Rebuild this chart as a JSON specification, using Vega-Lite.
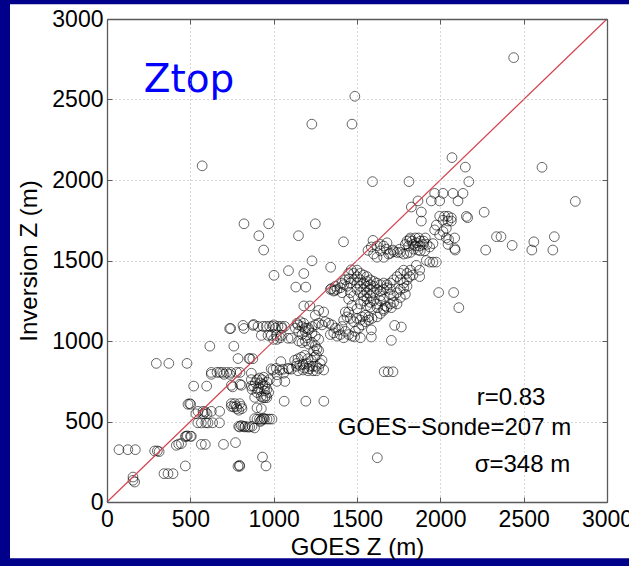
{
  "$schema": "https://vega.github.io/schema/vega-lite/v6.json",
  "width": 500,
  "height": 483,
  "autosize": {"type": "none"},
  "padding": {"left": 107, "top": 19, "right": 22, "bottom": 64},
  "background": "#00008B",
  "config": {
    "font": "Liberation Sans",
    "view": {"stroke": null},
    "axis": {
      "labelFont": "Liberation Sans",
      "labelFontSize": 23,
      "labelColor": "#000000",
      "titleFont": "Liberation Sans",
      "titleFontSize": 24,
      "titleFontWeight": "normal",
      "titleColor": "#000000",
      "domainColor": "#5a5a5a",
      "domainWidth": 1.3,
      "tickColor": "#5a5a5a",
      "tickSize": -5,
      "labelPadding": 8,
      "gridColor": "#b0b0b0",
      "gridDash": [1, 3],
      "labelFlush": false,
      "labelOverlap": false,
      "labelBound": false,
      "format": "d"
    }
  },
  "datasets": {
    "pts": [
      {"g":2440,"s":2760},{"g":1487,"s":2520},{"g":1229,"s":2347},{"g":1470,"s":2347},{"g":571,"s":2088},{"g":2070,"s":2139},{"g":2150,"s":2080},{"g":2610,"s":2079},{"g":1593,"s":1990},{"g":1812,"s":1990},{"g":2171,"s":1990},{"g":2810,"s":1867},{"g":822,"s":1728},{"g":970,"s":1728},{"g":1250,"s":1728},{"g":911,"s":1654},{"g":1149,"s":1654},{"g":940,"s":1565},{"g":1419,"s":1616},{"g":1230,"s":1498},{"g":1089,"s":1437},{"g":1181,"s":1419},{"g":1002,"s":1408},{"g":1342,"s":1458},{"g":1133,"s":1335},{"g":1193,"s":1335},{"g":1181,"s":1218},{"g":1217,"s":1218},{"g":2263,"s":1800},{"g":2164,"s":1766},{"g":2337,"s":1648},{"g":2364,"s":1648},{"g":2272,"s":1565},{"g":2431,"s":1594},{"g":2561,"s":1616},{"g":2549,"s":1565},{"g":2684,"s":1648},{"g":2675,"s":1565},{"g":1990,"s":1301},{"g":2080,"s":1301},{"g":2111,"s":1207},{"g":2089,"s":1565},{"g":1622,"s":275},{"g":1663,"s":809},{"g":1687,"s":809},{"g":1716,"s":809},{"g":1063,"s":626},{"g":1193,"s":626},{"g":1301,"s":626},
      {"g":1966,"s":1917},{"g":2016,"s":1917},{"g":2076,"s":1917},{"g":2136,"s":1917},{"g":1946,"s":1870},{"g":1996,"s":1870},{"g":2106,"s":1870},{"g":1866,"s":1870},{"g":1826,"s":1832},{"g":1886,"s":1801},{"g":1886,"s":1745},{"g":1996,"s":1775},{"g":2026,"s":1775},{"g":2046,"s":1775},{"g":2066,"s":1765},{"g":2016,"s":1750},{"g":2046,"s":1745},{"g":2066,"s":1745},{"g":2156,"s":1774},{"g":1976,"s":1720},{"g":1966,"s":1690},{"g":1996,"s":1660},{"g":2016,"s":1680},{"g":2036,"s":1700},{"g":2036,"s":1640},{"g":2086,"s":1640},{"g":2050,"s":1630},{"g":2086,"s":1574},{"g":2046,"s":1600},{"g":1596,"s":1625},{"g":1586,"s":1584},{"g":1566,"s":1563},{"g":1676,"s":1570},{"g":1716,"s":1565},{"g":1756,"s":1570},{"g":1816,"s":1630},{"g":1836,"s":1600},{"g":1856,"s":1610},{"g":1876,"s":1590},{"g":1896,"s":1600},{"g":1840,"s":1570},{"g":1866,"s":1565},{"g":1906,"s":1560},{"g":1936,"s":1584},{"g":1956,"s":1605},{"g":1916,"s":1500},{"g":1936,"s":1490},{"g":1956,"s":1490},{"g":1976,"s":1490},{"g":1856,"s":1470},{"g":1876,"s":1440},{"g":1816,"s":1400},{"g":1836,"s":1410},{"g":1876,"s":1400},{"g":1800,"s":1620},{"g":1820,"s":1640},{"g":1830,"s":1620},{"g":1850,"s":1640},{"g":1870,"s":1640},{"g":1880,"s":1620},{"g":1900,"s":1620},{"g":1910,"s":1640},{"g":1920,"s":1600},{"g":1790,"s":1600},{"g":1810,"s":1590},{"g":1850,"s":1590},{"g":1880,"s":1560},{"g":1760,"s":1550},{"g":1780,"s":1540},{"g":1800,"s":1545},{"g":1820,"s":1550},{"g":1700,"s":1545},{"g":1720,"s":1555},{"g":1740,"s":1550},{"g":1660,"s":1590},{"g":1640,"s":1560},{"g":1620,"s":1520},{"g":1660,"s":1520},{"g":1690,"s":1540},{"g":1600,"s":1540},{"g":1620,"s":1590},{"g":1640,"s":1600},{"g":1680,"s":1610},
      {"g":1460,"s":1360},{"g":1480,"s":1380},{"g":1500,"s":1400},{"g":1520,"s":1420},{"g":1540,"s":1410},{"g":1560,"s":1400},{"g":1580,"s":1380},{"g":1600,"s":1370},{"g":1620,"s":1360},{"g":1640,"s":1350},{"g":1660,"s":1360},{"g":1680,"s":1350},{"g":1700,"s":1360},{"g":1720,"s":1380},{"g":1740,"s":1400},{"g":1760,"s":1420},{"g":1780,"s":1440},{"g":1800,"s":1420},{"g":1820,"s":1440},{"g":1760,"s":1380},{"g":1780,"s":1360},{"g":1800,"s":1380},{"g":1500,"s":1360},{"g":1520,"s":1340},{"g":1540,"s":1320},{"g":1560,"s":1340},{"g":1580,"s":1320},{"g":1600,"s":1340},{"g":1620,"s":1320},{"g":1640,"s":1310},{"g":1660,"s":1320},{"g":1680,"s":1330},{"g":1700,"s":1320},{"g":1520,"s":1380},{"g":1540,"s":1360},{"g":1560,"s":1370},{"g":1580,"s":1350},{"g":1600,"s":1300},{"g":1540,"s":1280},{"g":1560,"s":1300},{"g":1580,"s":1280},{"g":1520,"s":1300},{"g":1500,"s":1320},{"g":1540,"s":1250},{"g":1560,"s":1260},{"g":1580,"s":1240},{"g":1600,"s":1250},{"g":1560,"s":1220},{"g":1580,"s":1210},{"g":1620,"s":1230},{"g":1640,"s":1250},{"g":1660,"s":1200},{"g":1680,"s":1210},{"g":1700,"s":1230},{"g":1720,"s":1240},{"g":1740,"s":1230},{"g":1700,"s":1290},{"g":1720,"s":1280},{"g":1740,"s":1300},{"g":1760,"s":1320},{"g":1780,"s":1330},{"g":1800,"s":1340},{"g":1760,"s":1270},{"g":1790,"s":1290},{"g":1640,"s":1280},{"g":1660,"s":1260},{"g":1500,"s":1440},{"g":1480,"s":1420},{"g":1450,"s":1420},{"g":1430,"s":1380},{"g":1420,"s":1350},{"g":1400,"s":1330},{"g":1380,"s":1320},{"g":1410,"s":1300},{"g":1440,"s":1340},{"g":1460,"s":1300},{"g":1480,"s":1280},{"g":1450,"s":1260},{"g":1470,"s":1220},{"g":1500,"s":1200},{"g":1520,"s":1230},{"g":1450,"s":1180},{"g":1430,"s":1180},{"g":1410,"s":1360},{"g":1370,"s":1340},{"g":1340,"s":1320},{"g":1360,"s":1310},{"g":1346,"s":1325},{"g":1366,"s":1315},{"g":1622,"s":1207},{"g":1670,"s":1218},{"g":1706,"s":1207},{"g":1270,"s":1190},{"g":1300,"s":1180},{"g":1250,"s":1160},{"g":1465,"s":1442},{"g":1453,"s":1386},
      {"g":1146,"s":1100},{"g":1170,"s":1090},{"g":1190,"s":1080},{"g":1210,"s":1070},{"g":1230,"s":1090},{"g":1250,"s":1100},{"g":1270,"s":1110},{"g":1290,"s":1100},{"g":1310,"s":1120},{"g":1330,"s":1110},{"g":1350,"s":1100},{"g":1370,"s":1080},{"g":1390,"s":1070},{"g":1410,"s":1090},{"g":1430,"s":1060},{"g":1450,"s":1040},{"g":1470,"s":1030},{"g":1490,"s":1060},{"g":1510,"s":1080},{"g":1530,"s":1100},{"g":1550,"s":1120},{"g":1570,"s":1130},{"g":1590,"s":1140},{"g":1486,"s":1025},{"g":1520,"s":1020},{"g":1586,"s":1025},{"g":1530,"s":1150},{"g":1550,"s":1160},{"g":1570,"s":1150},{"g":1500,"s":1140},{"g":1520,"s":1130},{"g":1480,"s":1120},{"g":1460,"s":1140},{"g":1440,"s":1150},{"g":1420,"s":1130},{"g":1400,"s":1040},{"g":1420,"s":1020},{"g":1380,"s":1030},{"g":1360,"s":1050},{"g":1340,"s":1040},{"g":1726,"s":1097},{"g":1766,"s":1087},{"g":1706,"s":1004},{"g":1620,"s":1150},{"g":1660,"s":1190},{"g":1640,"s":1170},{"g":1586,"s":1069},
      {"g":736,"s":1077},{"g":816,"s":1097},{"g":876,"s":1097},{"g":906,"s":1091},{"g":936,"s":1091},{"g":956,"s":1091},{"g":976,"s":1091},{"g":996,"s":1091},{"g":1026,"s":1091},{"g":1046,"s":1091},{"g":1066,"s":1091},{"g":926,"s":1035},{"g":966,"s":1035},{"g":986,"s":1035},{"g":1016,"s":1035},{"g":1046,"s":1035},{"g":1086,"s":1017},{"g":1106,"s":1017},{"g":1130,"s":1080},{"g":1150,"s":1060},{"g":1170,"s":1040},{"g":1190,"s":1060},{"g":1210,"s":1080},{"g":1230,"s":1050},{"g":1250,"s":1030},{"g":1270,"s":1010},{"g":1150,"s":1000},{"g":1170,"s":990},{"g":1190,"s":1000},{"g":1210,"s":980},{"g":1230,"s":990},{"g":1250,"s":970},{"g":1260,"s":950},{"g":1270,"s":940},{"g":1240,"s":940},{"g":1200,"s":1020},{"g":1180,"s":1110},{"g":1140,"s":1110},{"g":1160,"s":1120},{"g":1000,"s":1100},{"g":1010,"s":1080},{"g":1050,"s":1080},{"g":1000,"s":1010},{"g":1020,"s":1010},{"g":1040,"s":1020},
      {"g":1126,"s":880},{"g":1146,"s":890},{"g":1166,"s":900},{"g":1186,"s":911},{"g":1206,"s":890},{"g":1226,"s":880},{"g":1246,"s":900},{"g":1256,"s":911},{"g":1136,"s":843},{"g":1156,"s":850},{"g":1176,"s":855},{"g":1196,"s":860},{"g":1216,"s":843},{"g":1236,"s":843},{"g":1256,"s":843},{"g":1146,"s":815},{"g":1176,"s":820},{"g":1206,"s":815},{"g":1236,"s":815},{"g":1256,"s":815},{"g":1280,"s":860},{"g":1290,"s":880},{"g":1300,"s":820},{"g":1270,"s":830},
      {"g":1016,"s":830},{"g":1036,"s":820},{"g":1056,"s":825},{"g":1086,"s":830},{"g":1106,"s":825},{"g":996,"s":820},{"g":1043,"s":872},{"g":1139,"s":861},{"g":1183,"s":832},{"g":1212,"s":827},{"g":1020,"s":790},{"g":1060,"s":800},{"g":985,"s":827},{"g":1092,"s":827},{"g":1067,"s":749},{"g":1019,"s":749},
      {"g":886,"s":650},{"g":900,"s":680},{"g":910,"s":710},{"g":920,"s":740},{"g":930,"s":760},{"g":940,"s":775},{"g":950,"s":720},{"g":960,"s":700},{"g":970,"s":680},{"g":900,"s":760},{"g":890,"s":740},{"g":880,"s":720},{"g":915,"s":770},{"g":935,"s":730},{"g":945,"s":690},{"g":955,"s":660},{"g":925,"s":655},{"g":905,"s":700},{"g":960,"s":745},{"g":975,"s":760},{"g":866,"s":720},{"g":866,"s":760},{"g":866,"s":800},{"g":935,"s":648},{"g":947,"s":648},{"g":959,"s":648},{"g":926,"s":580},{"g":870,"s":700},
      {"g":796,"s":466},{"g":826,"s":466},{"g":856,"s":466},{"g":886,"s":518},{"g":926,"s":507},{"g":900,"s":515},{"g":915,"s":515},{"g":930,"s":515},{"g":945,"s":515},{"g":960,"s":515},{"g":975,"s":515},{"g":990,"s":515},{"g":940,"s":520},{"g":790,"s":470},{"g":805,"s":475},{"g":815,"s":470},{"g":830,"s":470},{"g":845,"s":465},{"g":870,"s":470},{"g":920,"s":500},{"g":885,"s":460},{"g":900,"s":585},
      {"g":746,"s":594},{"g":776,"s":594},{"g":806,"s":594},{"g":746,"s":611},{"g":766,"s":611},{"g":796,"s":611},{"g":780,"s":580},{"g":760,"s":590},{"g":790,"s":570},{"g":810,"s":580},{"g":486,"s":607},{"g":502,"s":607},{"g":496,"s":611},{"g":590,"s":560},
      {"g":546,"s":563},{"g":576,"s":563},{"g":626,"s":563},{"g":676,"s":563},{"g":600,"s":548},{"g":533,"s":548},{"g":578,"s":548},{"g":545,"s":492},{"g":566,"s":491},{"g":593,"s":492},{"g":606,"s":491},{"g":634,"s":492},{"g":675,"s":492},{"g":476,"s":408},{"g":501,"s":408},{"g":506,"s":408},{"g":482,"s":411},{"g":470,"s":407},{"g":566,"s":358},{"g":590,"s":358},{"g":699,"s":358},{"g":771,"s":369},{"g":416,"s":352},{"g":446,"s":363},{"g":430,"s":360},{"g":795,"s":228},{"g":786,"s":222},{"g":796,"s":222},{"g":933,"s":279},{"g":954,"s":224},{"g":470,"s":224},{"g":72,"s":325},{"g":125,"s":325},{"g":170,"s":325},{"g":286,"s":317},{"g":302,"s":317},{"g":313,"s":313},{"g":342,"s":176},{"g":366,"s":176},{"g":396,"s":176},{"g":156,"s":155},{"g":156,"s":135},{"g":166,"s":124},{"g":296,"s":861},{"g":371,"s":861},{"g":480,"s":861},{"g":617,"s":968},{"g":761,"s":968},{"g":742,"s":1078},{"g":822,"s":1078},{"g":880,"s":1103},{"g":858,"s":890},{"g":875,"s":890},{"g":626,"s":805},{"g":660,"s":805},{"g":677,"s":805},{"g":694,"s":805},{"g":718,"s":805},{"g":742,"s":805},{"g":778,"s":805},{"g":798,"s":805},{"g":520,"s":720},{"g":598,"s":720},{"g":746,"s":725},{"g":806,"s":725},{"g":754,"s":715},{"g":798,"s":731},{"g":626,"s":793},{"g":702,"s":793},{"g":736,"s":793},{"g":786,"s":891},{"g":852,"s":891}
    ]
  },
  "resolve": {"axis": {"x": "independent", "y": "independent"}},
  "layer": [
    {
      "data": {"values": [{}]},
      "mark": {"type": "rect", "fill": "#ffffff", "clip": false},
      "encoding": {
        "x": {"datum": -582, "type": "quantitative", "scale": {"domain": [0, 3000], "nice": false, "zero": false}, "axis": null},
        "x2": {"datum": 3300},
        "y": {"datum": -350, "type": "quantitative", "scale": {"domain": [0, 3000], "nice": false, "zero": false}, "axis": null},
        "y2": {"datum": 3091}
      }
    },
    {
      "data": {"name": "pts"},
      "mark": {"type": "point", "shape": "circle", "filled": false, "stroke": "#000000", "strokeWidth": 1, "strokeOpacity": 0.85, "size": 95},
      "encoding": {
        "x": {"field": "g", "type": "quantitative", "scale": {"domain": [0, 3000], "nice": false, "zero": false},
              "axis": {"zindex": 1, "title": "GOES Z (m)", "values": [0, 500, 1000, 1500, 2000, 2500, 3000], "grid": true, "labelPadding": 11, "titlePadding": 4}},
        "y": {"field": "s", "type": "quantitative", "scale": {"domain": [0, 3000], "nice": false, "zero": false},
              "axis": {"zindex": 1, "title": "Inversion Z (m)", "values": [0, 500, 1000, 1500, 2000, 2500, 3000], "grid": true, "labelPadding": 9, "titlePadding": 10}}
      }
    },
    {
      "data": {"values": [{}]},
      "mark": {"type": "rule", "color": "#d4434f", "strokeWidth": 1.2},
      "encoding": {
        "x": {"datum": 0, "type": "quantitative", "scale": {"domain": [0, 3000], "nice": false, "zero": false},
              "axis": {"zindex": 1, "orient": "top", "labels": false, "title": null, "grid": false, "values": [0, 500, 1000, 1500, 2000, 2500, 3000]}},
        "y": {"datum": 0, "type": "quantitative", "scale": {"domain": [0, 3000], "nice": false, "zero": false},
              "axis": {"zindex": 1, "orient": "right", "labels": false, "title": null, "grid": false, "values": [0, 500, 1000, 1500, 2000, 2500, 3000]}},
        "x2": {"datum": 3000},
        "y2": {"datum": 3000}
      }
    },
    {
      "data": {"values": [{}]},
      "mark": {"type": "text", "text": "Ztop", "font": "DejaVu Sans", "fontSize": 39, "color": "#0000FF", "align": "left", "baseline": "alphabetic"},
      "encoding": {
        "x": {"datum": 220, "type": "quantitative", "scale": {"domain": [0, 3000], "nice": false, "zero": false}, "axis": null},
        "y": {"datum": 2547, "type": "quantitative", "scale": {"domain": [0, 3000], "nice": false, "zero": false}, "axis": null}
      }
    },
    {
      "data": {"values": [{}]},
      "mark": {"type": "text", "text": "r=0.83", "fontSize": 24, "color": "#000000", "align": "left", "baseline": "alphabetic"},
      "encoding": {
        "x": {"datum": 2218, "type": "quantitative", "scale": {"domain": [0, 3000], "nice": false, "zero": false}, "axis": null},
        "y": {"datum": 600, "type": "quantitative", "scale": {"domain": [0, 3000], "nice": false, "zero": false}, "axis": null}
      }
    },
    {
      "data": {"values": [{}]},
      "mark": {"type": "text", "text": "GOES−Sonde=207 m", "fontSize": 24, "color": "#000000", "align": "left", "baseline": "alphabetic"},
      "encoding": {
        "x": {"datum": 1384, "type": "quantitative", "scale": {"domain": [0, 3000], "nice": false, "zero": false}, "axis": null},
        "y": {"datum": 414, "type": "quantitative", "scale": {"domain": [0, 3000], "nice": false, "zero": false}, "axis": null}
      }
    },
    {
      "data": {"values": [{}]},
      "mark": {"type": "text", "text": "σ=348 m", "fontSize": 24, "color": "#000000", "align": "left", "baseline": "alphabetic"},
      "encoding": {
        "x": {"datum": 2206, "type": "quantitative", "scale": {"domain": [0, 3000], "nice": false, "zero": false}, "axis": null},
        "y": {"datum": 184, "type": "quantitative", "scale": {"domain": [0, 3000], "nice": false, "zero": false}, "axis": null}
      }
    }
  ]
}
